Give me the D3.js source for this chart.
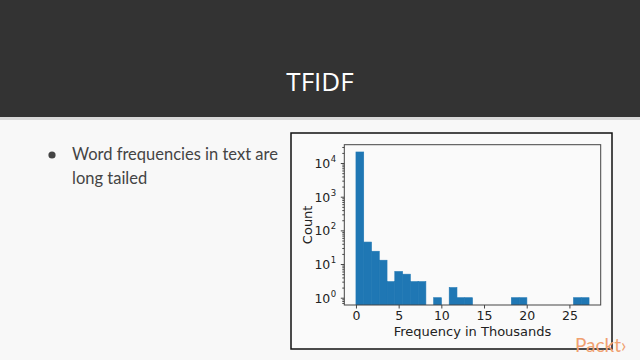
<!DOCTYPE html>
<html>
<head>
<meta charset="utf-8">
<script src="https://cdn.jsdelivr.net/npm/d3@7"></script>
<style>
  html, body { margin: 0; padding: 0; background: #f8f8f8; }
  svg { display: block; }
</style>
</head>
<body>
<svg id="c" width="640" height="360"></svg>
<script>
// ---- data ----
const slideTitle = "TFIDF";
const bulletLines = ["Word frequencies in text are", "long tailed"];
const xLabel = "Frequency in Thousands";
const yLabel = "Count";
const binCount = 30;          // histogram bins
const maxFrequency = 27.3;    // right edge of last bin (thousands)
const counts = [21300, 45, 24, 13, 3, 6, 5, 3, 3, 0,
                1, 0, 2, 1, 1, 0, 0, 0, 0, 0,
                1, 1, 0, 0, 0, 0, 0, 0, 1, 1];
const xTicks = [0, 5, 10, 15, 20, 25];
const yTickExps = [0, 1, 2, 3, 4];

const svg = d3.select("#c");

// ---- slide chrome ----
svg.append("rect").attr("x", 0).attr("y", 0).attr("width", 640).attr("height", 360).attr("fill", "#f8f8f8");
svg.append("rect").attr("x", 0).attr("y", 117).attr("width", 640).attr("height", 3).attr("fill", "#d8d8d8");
svg.append("rect").attr("x", 0).attr("y", 0).attr("width", 640).attr("height", 117).attr("fill", "#333333");
svg.append("text").attr("x", 320).attr("y", 91).attr("text-anchor", "middle")
  .attr("font-family", "'Open Sans', sans-serif").attr("font-size", 26).attr("fill", "#ffffff")
  .text(slideTitle);

svg.append("circle").attr("cx", 52).attr("cy", 155).attr("r", 3.6).attr("fill", "#444");
bulletLines.forEach((t, i) => {
  svg.append("text").attr("x", 72).attr("y", 160 + i * 24)
    .attr("font-family", "Lato, sans-serif").attr("font-size", 16.5).attr("fill", "#444")
    .text(t);
});

// ---- chart frame ----
svg.append("rect").attr("x", 291).attr("y", 133).attr("width", 321).attr("height", 216)
  .attr("fill", "#fafafa").attr("stroke", "#111").attr("stroke-width", 1.5);

const plot = { left: 344.3, right: 600.7, top: 144.7, bottom: 305 };
const binWidth = maxFrequency / binCount;
const margin = 0.05 * maxFrequency;

const x = d3.scaleLinear().domain([-margin, maxFrequency + margin]).range([plot.left, plot.right]);
const yMax = d3.max(counts);
const logSpan = Math.log10(yMax);
const y = d3.scaleLog()
  .domain([Math.pow(10, -0.05 * logSpan), Math.pow(10, logSpan * 1.05)])
  .range([plot.bottom, plot.top]);

const bins = counts.map((c, i) => ({ x0: i * binWidth, x1: (i + 1) * binWidth, c }));

svg.append("defs").append("clipPath").attr("id", "clip")
  .append("rect").attr("x", plot.left).attr("y", plot.top)
  .attr("width", plot.right - plot.left).attr("height", plot.bottom - plot.top);

svg.append("g").attr("clip-path", "url(#clip)")
  .selectAll("rect").data(bins.filter(b => b.c > 0)).join("rect")
  .attr("x", d => x(d.x0))
  .attr("width", d => x(d.x1) - x(d.x0))
  .attr("y", d => y(d.c))
  .attr("height", d => plot.bottom + 2 - y(d.c))
  .attr("fill", "#1f77b4")
  .attr("stroke", "#1f77b4").attr("stroke-width", 0.6);

// spines
svg.append("rect").attr("x", plot.left).attr("y", plot.top)
  .attr("width", plot.right - plot.left).attr("height", plot.bottom - plot.top)
  .attr("fill", "none").attr("stroke", "#444").attr("stroke-width", 1);

// x axis
const xAxis = d3.axisBottom(x).tickValues(xTicks).tickSize(3.5).tickPadding(3).tickFormat(d3.format("d"));
const gx = svg.append("g").attr("transform", `translate(0,${plot.bottom})`).call(xAxis);
gx.select(".domain").remove();
gx.selectAll("line").attr("stroke", "#444");
gx.selectAll("text").attr("font-family", "'DejaVu Sans', sans-serif").attr("font-size", 12.5).attr("fill", "#222");

// y axis (log, major + minor)
const minorVals = [];
yTickExps.forEach(e => { for (let m = 2; m <= 9; m++) minorVals.push(m * Math.pow(10, e)); });
minorVals.push(0.7, 0.8, 0.9);
const yMinor = d3.axisLeft(y).tickValues(minorVals.filter(v => v >= y.domain()[0] && v <= y.domain()[1]))
  .tickSize(2).tickFormat("");
const gym = svg.append("g").attr("transform", `translate(${plot.left},0)`).call(yMinor);
gym.select(".domain").remove();
gym.selectAll("line").attr("stroke", "#444");

const yAxis = d3.axisLeft(y).tickValues(yTickExps.map(e => Math.pow(10, e))).tickSize(3.5).tickPadding(3).tickFormat("");
const gy = svg.append("g").attr("transform", `translate(${plot.left},0)`).call(yAxis);
gy.select(".domain").remove();
gy.selectAll("line").attr("stroke", "#444");
gy.selectAll(".tick").each(function (d) {
  d3.select(this).append("text")
    .attr("x", -14).attr("y", 4.5).attr("text-anchor", "end")
    .attr("font-family", "'DejaVu Sans', sans-serif").attr("font-size", 12.5).attr("fill", "#222")
    .text("10");
  d3.select(this).append("text")
    .attr("x", -13.5).attr("y", -1.5).attr("text-anchor", "start")
    .attr("font-family", "'DejaVu Sans', sans-serif").attr("font-size", 8.5).attr("fill", "#222")
    .text(Math.round(Math.log10(d)));
});

// axis labels
svg.append("text").attr("x", (plot.left + plot.right) / 2).attr("y", 336).attr("text-anchor", "middle")
  .attr("font-family", "'DejaVu Sans', sans-serif").attr("font-size", 13).attr("fill", "#222")
  .text(xLabel);
svg.append("text").attr("transform", `translate(312,${(plot.top + plot.bottom) / 2}) rotate(-90)`)
  .attr("text-anchor", "middle")
  .attr("font-family", "'DejaVu Sans', sans-serif").attr("font-size", 13).attr("fill", "#222")
  .text(yLabel);

// logo
svg.append("text").attr("x", 575).attr("y", 352)
  .attr("font-family", "Lato, sans-serif").attr("font-size", 19).attr("fill", "#f0a070")
  .text("Packt›");
</script>
</body>
</html>
